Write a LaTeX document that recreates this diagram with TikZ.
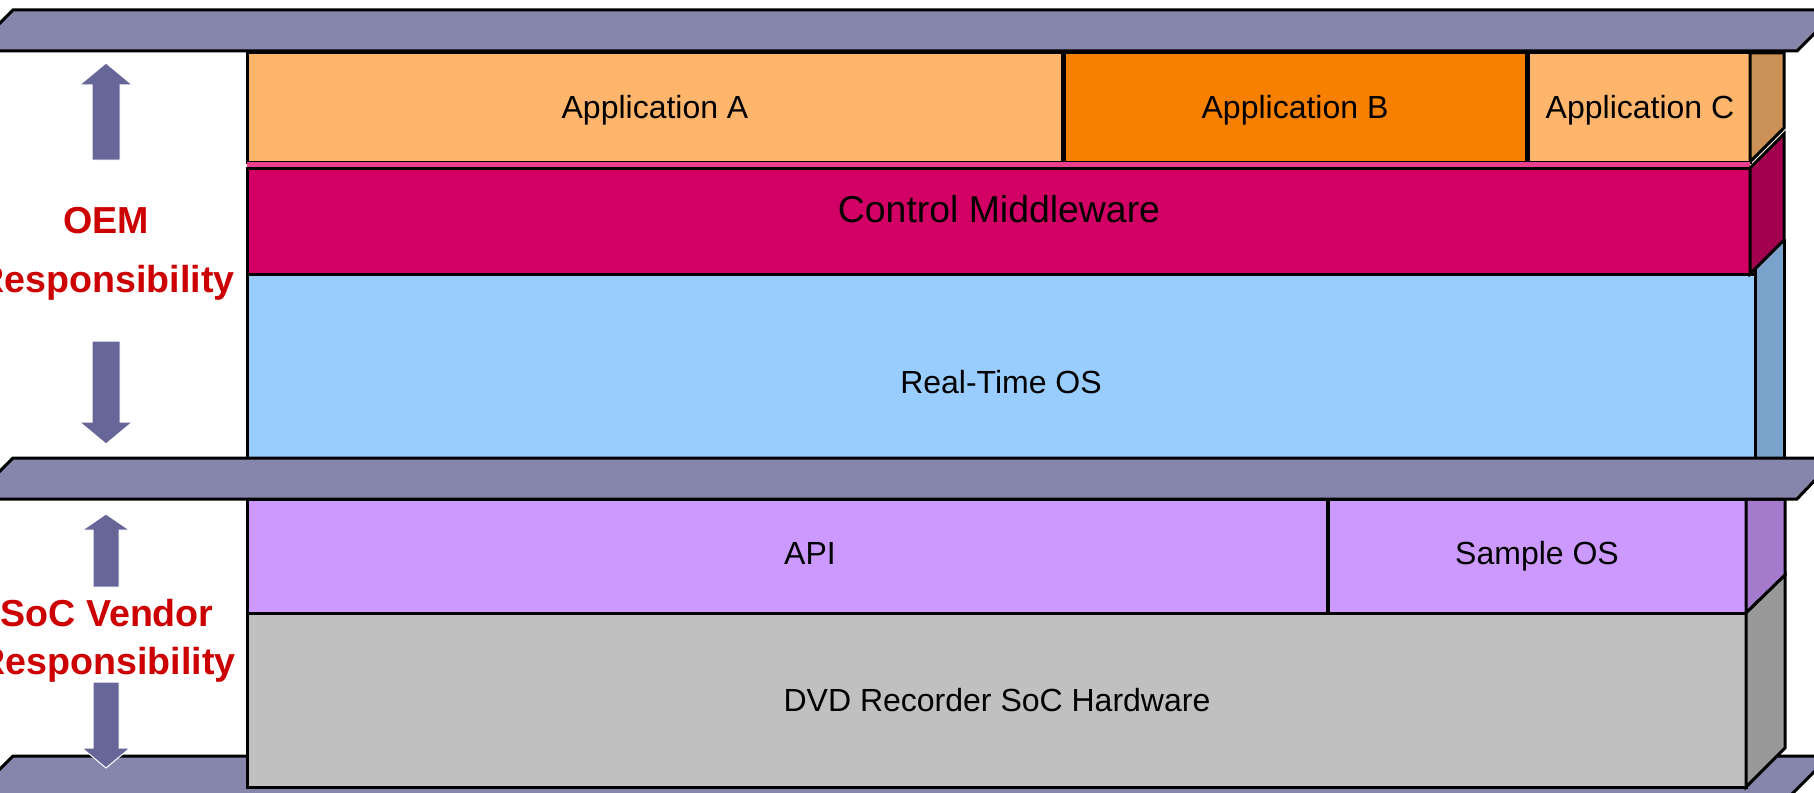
\documentclass[tikz,border=0pt]{standalone}
\usepackage{fontspec}
\setmainfont{Liberation Sans}
\definecolor{barc}{HTML}{8686AD}
\definecolor{arrc}{HTML}{666699}
\definecolor{appA}{HTML}{FFB56B}
\definecolor{appB}{HTML}{F78000}
\definecolor{appside}{HTML}{CC9156}
\definecolor{mw}{HTML}{D20064}
\definecolor{mwside}{HTML}{A3004F}
\definecolor{mwtop}{HTML}{E8408A}
\definecolor{rtos}{HTML}{99CCFF}
\definecolor{rtosside}{HTML}{7AA3CC}
\definecolor{api}{HTML}{CC99FF}
\definecolor{apiside}{HTML}{A37ACC}
\definecolor{hw}{HTML}{C0C0C0}
\definecolor{hwside}{HTML}{999999}
\definecolor{respred}{HTML}{CC0000}
\begin{document}
\begin{tikzpicture}[x=0.5pt,y=-0.5pt,line join=miter,
  box/.style={draw=black,line width=1.5pt},
  lbl/.style={anchor=base,inner sep=0pt,font=\fontsize{16}{19}\selectfont},
  resp/.style={anchor=base,inner sep=0pt,text=respred,font=\fontsize{18.8}{22}\selectfont\bfseries},
  bar/.style={fill=barc,draw=black,line width=1.5pt},
  arr/.style={fill=arrc,draw=white,line width=0.5pt}]
\useasboundingbox (0,0) rectangle (1814,792);
\clip (0,0) rectangle (1814,792);
% bottom bar (under the hardware block)
\path[bar] (13,756) -- (1830,756) -- (1789,797) -- (-28,797) -- cycle;
% application row
\path[box,fill=appA] (247,53) rectangle (1062,162);
\path[box,fill=appB] (1064,53) rectangle (1526,162);
\path[box,fill=appA] (1528,53) rectangle (1750,162);
\path[box,fill=appside] (1750,53) -- (1784,53) -- (1784,128) -- (1750,162) -- cycle;
% real-time OS
\path[box,fill=rtosside] (1755,240) rectangle (1784,458);
\path[box,fill=rtos] (247,274) rectangle (1755,458);
% control middleware
\fill[mwtop] (247,162) rectangle (1750,168);
\path[box,fill=mw] (247,168) rectangle (1750,274);
\path[box,fill=mwside] (1750,168) -- (1784,134) -- (1784,240) -- (1750,274) -- cycle;
% API / sample OS
\path[box,fill=api] (247,499) rectangle (1327,613);
\path[box,fill=api] (1328,499) rectangle (1746,613);
\path[box,fill=apiside] (1746,499) -- (1785,499) -- (1785,575) -- (1746,613) -- cycle;
% hardware
\path[box,fill=hw] (247,613) rectangle (1746,787);
\path[box,fill=hwside] (1746,613) -- (1785,575) -- (1785,748) -- (1746,787) -- cycle;
% top and middle bars
\path[bar] (13,10) -- (1838,10) -- (1797,51) -- (-28,51) -- cycle;
\path[bar] (13,458) -- (1836,458) -- (1797,499) -- (-28,499) -- cycle;
% texts
\node[lbl] (appa) at (655,119) {Application A};
\node[lbl] (appb) at (1295,119) {Application B};
\node[lbl] (appc) at (1640,119) {Application C};
\node[lbl,font=\fontsize{18.7}{22}\selectfont] (ctrl) at (999,222) {Control Middleware};
\node[lbl] (rtosl) at (1001,393) {Real-Time OS};
\node[lbl] (apil) at (810,564) {API};
\node[lbl] (sos) at (1537,564) {Sample OS};
\node[lbl] (dvd) at (997,711) {DVD Recorder SoC Hardware};
\node[resp] (oem1) at (106,233) {OEM};
\node[resp] (oem2) at (106,292) {Responsibility};
\node[resp] (soc1) at (107,626) {SoC Vendor};
\node[resp] (soc2) at (107,674) {Responsibility};
% arrows
\path[arr] (92,160) -- (92,85) -- (79.5,85) -- (106,63) -- (132.5,85) -- (120,85) -- (120,160) -- cycle;
\path[arr] (92,341) -- (92,422) -- (79.5,422) -- (106,444) -- (132.5,422) -- (120,422) -- (120,341) -- cycle;
\path[arr] (93,587) -- (93,530) -- (82.5,530) -- (106,514) -- (129.5,530) -- (119,530) -- (119,587) -- cycle;
\path[arr] (93,682) -- (93,748) -- (82,748) -- (106,768) -- (130,748) -- (119,748) -- (119,682) -- cycle;
\end{tikzpicture}
\end{document}
